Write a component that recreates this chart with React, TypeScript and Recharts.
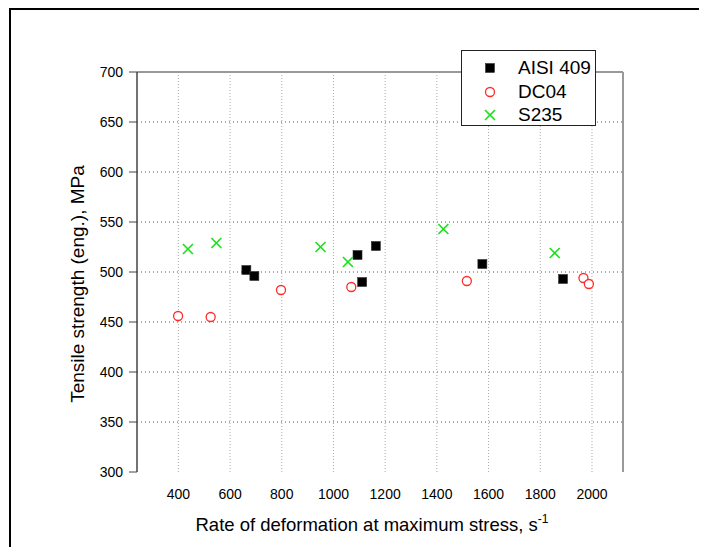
import { ScatterChart, Scatter, XAxis, YAxis, CartesianGrid } from "recharts";

/* ---------------- DATA ---------------- */

const aisiRate = [663, 694, 1093, 1111, 1164, 1576, 1888];
const aisiStrength = [502, 496, 517, 490, 526, 508, 493];

const dc04Rate = [399, 525, 797, 1069, 1516, 1967, 1988];
const dc04Strength = [456, 455, 482, 485, 491, 494, 488];

const s235Rate = [437, 547, 950, 1056, 1425, 1856];
const s235Strength = [523, 529, 525, 510, 543, 519];

const seriesNames = ["AISI 409", "DC04", "S235"];

const xDomain: [number, number] = [240, 2120];
const yDomain: [number, number] = [300, 700];
const xTicks = [400, 600, 800, 1000, 1200, 1400, 1600, 1800, 2000];
const yTicks = [300, 350, 400, 450, 500, 550, 600, 650, 700];
const yGrid = [350, 400, 450, 500, 550, 600, 650];
const xMinorTicks = Array.from({ length: 46 }, (_, i) => 280 + i * 40).filter(
  (v) => v < 2120 && !xTicks.includes(v)
);
const yMinorTicks = Array.from({ length: 39 }, (_, i) => 310 + i * 10).filter(
  (v) => v % 50 !== 0
);

const pairs = (xs: number[], ys: number[]) => xs.map((x, i) => ({ x, y: ys[i] }));

const FONT = "'Liberation Sans', Arial, sans-serif";
const GREEN = "#1ee01e";
const RED = "#ff2a2a";

/* ---------------- MARKERS ---------------- */

function SquareMark({ cx, cy }: any) {
  return <rect x={cx - 4.5} y={cy - 4.5} width={9} height={9} fill="#000" stroke="#333" strokeWidth={0.6} />;
}

function CircleMark({ cx, cy }: any) {
  return <circle cx={cx} cy={cy} r={4.5} fill="#fff" stroke={RED} strokeWidth={1.3} />;
}

function CrossMark({ cx, cy }: any) {
  const s = 5;
  return (
    <g stroke={GREEN} strokeWidth={1.7}>
      <line x1={cx - s} y1={cy - s} x2={cx + s} y2={cy + s} />
      <line x1={cx - s} y1={cy + s} x2={cx + s} y2={cy - s} />
    </g>
  );
}

const legendMarks = [
  <SquareMark cx={8} cy={8} />,
  <CircleMark cx={8} cy={8} />,
  <CrossMark cx={8} cy={8} />,
];

export default function App() {
  return (
    <div style={{ position: "relative", width: 691, height: 539, overflow: "hidden", fontFamily: FONT }}>
      {/* outer frame, only top/left visible */}
      <div
        style={{
          position: "absolute",
          left: 1,
          top: 0,
          width: 900,
          height: 900,
          borderTop: "2px solid #000",
          borderLeft: "2px solid #000",
        }}
      />

      <ScatterChart
        width={691}
        height={539}
        margin={{ top: 64, right: 76, bottom: 74, left: 128 }}
        style={{ position: "absolute", left: 0, top: 0 }}
      >
        <CartesianGrid vertical={false} horizontalValues={yGrid} stroke="#555" strokeDasharray="1 3" />
        <CartesianGrid horizontal={false} verticalValues={xTicks} stroke="#aaa" strokeDasharray="1 2" />

        {/* bottom: labels (no axis line), inward major and minor ticks */}
        <XAxis
          type="number"
          dataKey="x"
          domain={xDomain}
          ticks={xTicks}
          interval={0}
          allowDataOverflow
          height={1}
          tickSize={0}
          tickMargin={17}
          axisLine={false}
          tickLine={false}
          tick={{ fill: "#000", fontSize: 14, fontFamily: FONT }}
        />
        <XAxis
          xAxisId="major"
          type="number"
          domain={xDomain}
          ticks={xTicks}
          interval={0}
          allowDataOverflow
          height={1}
          mirror
          tickSize={8}
          axisLine={false}
          tick={false}
          tickLine={{ stroke: "#bbb", strokeWidth: 1.5 }}
        />
        <XAxis
          xAxisId="minor"
          type="number"
          domain={xDomain}
          ticks={xMinorTicks}
          interval={0}
          allowDataOverflow
          height={1}
          mirror
          tickSize={3}
          axisLine={false}
          tick={false}
          tickLine={{ stroke: "#444" }}
        />
        <XAxis
          xAxisId="top"
          orientation="top"
          type="number"
          domain={xDomain}
          height={1}
          mirror
          axisLine={{ stroke: "#999", strokeWidth: 2 }}
          tick={false}
          tickLine={false}
        />

        {/* left: axis line, outward major and minor ticks */}
        <YAxis
          type="number"
          dataKey="y"
          domain={yDomain}
          ticks={yTicks}
          interval={0}
          allowDataOverflow
          width={1}
          tickSize={8}
          tickMargin={6}
          axisLine={{ stroke: "#444", strokeWidth: 1.5 }}
          tickLine={{ stroke: "#444" }}
          tick={{ fill: "#000", fontSize: 14, fontFamily: FONT }}
        />
        <YAxis
          yAxisId="minor"
          type="number"
          domain={yDomain}
          ticks={yMinorTicks}
          interval={0}
          allowDataOverflow
          width={1}
          mirror
          tickSize={-4}
          axisLine={false}
          tick={false}
          tickLine={{ stroke: "#444" }}
        />
        <YAxis
          yAxisId="right"
          orientation="right"
          type="number"
          domain={yDomain}
          width={1}
          mirror
          axisLine={{ stroke: "#999", strokeWidth: 2 }}
          tick={false}
          tickLine={false}
        />

        <Scatter name={seriesNames[0]} data={pairs(aisiRate, aisiStrength)} shape={SquareMark} isAnimationActive={false} />
        <Scatter name={seriesNames[1]} data={pairs(dc04Rate, dc04Strength)} shape={CircleMark} isAnimationActive={false} />
        <Scatter name={seriesNames[2]} data={pairs(s235Rate, s235Strength)} shape={CrossMark} isAnimationActive={false} />
      </ScatterChart>

      {/* legend */}
      <div
        style={{
          position: "absolute",
          left: 453,
          top: 42,
          width: 133,
          height: 74,
          border: "1px solid #222",
          background: "#fff",
        }}
      >
        {seriesNames.map((name, i) => (
          <div
            key={name}
            style={{ position: "absolute", left: 20, top: 7 + i * 23.5, height: 20, display: "flex", alignItems: "center" }}
          >
            <svg width={16} height={16} style={{ overflow: "visible" }}>
              {legendMarks[i]}
            </svg>
            <span style={{ marginLeft: 20, fontSize: 19, color: "#000" }}>{name}</span>
          </div>
        ))}
      </div>

      {/* axis titles */}
      <div
        style={{
          position: "absolute",
          left: 70,
          top: 276,
          transform: "translate(-50%, -50%) rotate(-90deg)",
          whiteSpace: "nowrap",
          fontSize: 19,
          color: "#000",
        }}
      >
        Tensile strength (eng.), MPa
      </div>
      <div
        style={{
          position: "absolute",
          left: 364,
          top: 516,
          transform: "translate(-50%, -50%)",
          whiteSpace: "nowrap",
          fontSize: 18.5,
          color: "#000",
        }}
      >
        Rate of deformation at maximum stress, s<sup style={{ fontSize: 12 }}>-1</sup>
      </div>
    </div>
  );
}
